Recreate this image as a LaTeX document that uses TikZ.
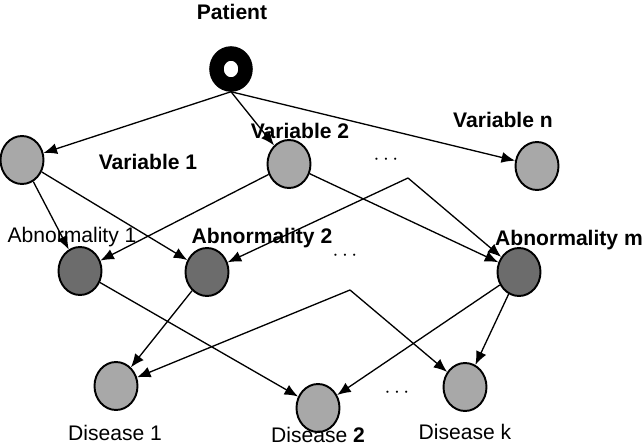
\documentclass[tikz,border=0pt]{standalone}
\usepackage{fontspec}
\setmainfont{Liberation Sans}
\usepackage{tikz}
\usetikzlibrary{shapes.geometric,arrows.meta}

\definecolor{lightnode}{HTML}{A8A8A8}
\definecolor{darknode}{HTML}{6C6C6C}

\tikzset{
  var/.style={ellipse,draw,line width=1.1pt,fill=lightnode,minimum width=0.86cm,minimum height=0.96cm},
  abn/.style={var,fill=darknode},
  dis/.style={var,fill=lightnode},
  ring/.style={ellipse,draw,line width=0.29cm,fill=white,minimum width=0.58cm,minimum height=0.62cm,inner sep=0pt},
  lab/.style={font=\fontsize{12}{14}\selectfont},
  blab/.style={font=\fontsize{12}{14}\selectfont\bfseries},
  dots/.style={font=\large}
}

\begin{document}
\begin{tikzpicture}[x=0.02cm,y=-0.02cm,>={Latex[length=0.27cm,width=0.22cm]},line width=0.75pt]
\useasboundingbox (0,0) rectangle (643,446);

% patient
\node[blab] (patlab) at (232,12) {Patient};
\node[ring] (pat) at (231,69) {};

% variables
\node[var] (v1) at (22,160) {};
\node[var] (v2) at (289,164) {};
\node[var] (vn) at (537,166) {};
\node[blab] (v1lab) at (148,162) {Variable 1};
\node[blab] (v2lab) at (300,131) {Variable 2};
\node[blab] (vnlab) at (503,120) {Variable n};
\node[dots] (vdots) at (386,160) {$\cdots$};

% abnormalities
\node[abn] (a1) at (80,271) {};
\node[abn] (a2) at (207,272) {};
\node[abn] (am) at (519,272) {};
\node[lab] (a1lab) at (72,237) {Abnormality 1};
\node[blab] (a2lab) at (262,238) {Abnormality 2};
\node[blab] (amlab) at (569,240) {Abnormality m};
\node[dots] (adots) at (345,256) {$\cdots$};

% diseases
\node[dis] (d1) at (116,386) {};
\node[dis] (d2) at (318,408) {};
\node[dis] (dk) at (465,387) {};
\node[lab] (d1lab) at (115,433) {Disease 1};
\node[lab] (d2lab) at (318,435) {Disease \textbf{2}};
\node[lab] (dklab) at (465,432) {Disease k};
\node[dots] (ddots) at (397,393) {$\cdots$};

\coordinate (hubA) at (408,178);
\coordinate (hubB) at (350,290);

% patient to variables
\draw[->] (pat.south) -- (v1);
\draw[->] (pat.south) -- (v2);
\draw[->] (pat.south) -- (vn);

% variables to abnormalities
\draw[->] (v1) -- (a1);
\draw[->] (v1) -- (a2);
\draw[->] (v2) -- (a1);
\draw[->] (v2) -- (am);
\draw[->] (hubA) -- (a2);
\draw[->] (hubA) -- (am);

% abnormalities to diseases
\draw[->] (a1) -- (d2);
\draw[->] (a2) -- (d1);
\draw[->] (hubB) -- (d1);
\draw[->] (hubB) -- (dk);
\draw[->] (am) -- (d2);
\draw[->] (am) -- (dk);
\end{tikzpicture}
\end{document}
